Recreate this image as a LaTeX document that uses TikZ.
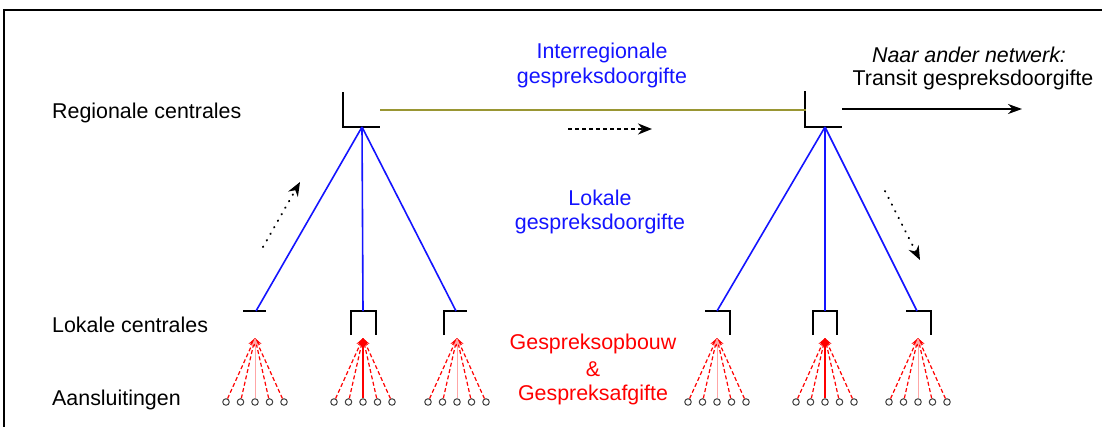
\documentclass[tikz,border=0pt]{standalone}
\usepackage{fontspec}
\setmainfont{Liberation Sans}
\usetikzlibrary{arrows.meta}
\definecolor{trunk}{RGB}{153,150,51}
\definecolor{linkblue}{RGB}{20,20,255}
\definecolor{callred}{RGB}{255,0,0}
\begin{document}
\begin{tikzpicture}[x=1pt,y=-1pt,
  lbl/.style={font=\fontsize{21.4}{25}\selectfont, inner sep=0pt},
  exch/.style={draw=black, line width=2pt},
  link/.style={draw=linkblue, line width=1.6pt},
  feed/.style={draw=callred, line width=1.2pt, dash pattern=on 4pt off 2.5pt, -{Stealth[length=8pt,width=7pt]}},
  feedmid/.style={draw=callred!35, line width=1pt, -{Stealth[length=8pt,width=7pt]}},
  feedsolid/.style={draw=callred, line width=1.3pt, -{Stealth[length=8pt,width=7pt]}},
  port/.style={draw=black!75, line width=1pt, fill=white, circle, minimum size=6.5pt, inner sep=0pt},
  flow/.style={draw=black, line width=2pt, line cap=round, dash pattern=on 0.5pt off 7pt, -{Stealth[length=14pt,width=11pt]}},
]
\useasboundingbox (0,0) rectangle (1102,426);
\clip (0,0) rectangle (1102,426);
\fill[white] (0,0) rectangle (1102,426);
% outer frame
\draw[line width=2pt] (4,480) -- (4,10) -- (1180,10);

% regional exchanges
\coordinate (RL) at (362,127);
\coordinate (RR) at (825,127);
\coordinate (RLo) at (380,110);
\coordinate (RRi) at (806,110);
\coordinate (RRo) at (842,109);
\coordinate (EXT) at (1022,109);
\draw[exch] (343,92) |- (380,127);
\draw[exch] (805,91) |- (842,127);
\draw[draw=trunk, line width=2pt] (RLo) -- (RRi);
\draw[line width=2pt, -{Stealth[length=14pt,width=10pt]}] (RRo) -- (EXT);

% local exchanges
\coordinate (L1) at (256,311);
\coordinate (L2) at (363,311);
\coordinate (L3) at (456,311);
\coordinate (L4) at (717,311);
\coordinate (L5) at (825,311);
\coordinate (L6) at (917,311);
\draw[exch] (243,311) -- (266,311);
\draw[exch] (351,335) |- (376,311) -- (376,335);
\draw[exch] (444,335) |- (467,311);
\draw[exch] (705,311) -| (730,335);
\draw[exch] (813,335) |- (837,311) -- (837,335);
\draw[exch] (906,311) -| (931,335);

% links to the regional exchanges
\foreach \l in {L1,L2,L3} \draw[link] (RL) -- (\l);
\foreach \l in {L4,L5,L6} \draw[link] (RR) -- (\l);

% subscriber lines
\foreach \n/\x/\mid in {1/255/feedmid, 2/363/feedsolid, 3/457/feedmid, 4/717/feedmid, 5/825/feedsolid, 6/918/feedmid} {
  \coordinate (F\n) at (\x,338);
  \foreach \k/\d in {a/-29,b/-14.5,d/14.5,e/29} {
    \node[port] (P\n\k) at (\x+\d,402) {};
    \draw[feed] (P\n\k) -- (F\n);
  }
  \node[port] (P\n c) at (\x,402) {};
  \draw[\mid] (P\n c) -- (F\n);
}

% traffic direction hints
\coordinate (A1) at (263,247); \coordinate (A2) at (300,182);
\coordinate (B1) at (568,129); \coordinate (B2) at (652,129);
\coordinate (C1) at (885,191); \coordinate (C2) at (920,260);
\draw[flow] (A1) -- (A2);
\draw[flow, line cap=butt, dash pattern=on 4pt off 3pt] (B1) -- (B2);
\draw[flow] (C1) -- (C2);

% labels
\node[lbl, anchor=west] (tReg) at (52,113) {Regionale centrales};
\node[lbl, anchor=west] (tLok) at (52,325) {Lokale centrales};
\node[lbl, anchor=west] (tAan) at (52,400) {Aansluitingen};
\node[lbl, text=linkblue] (tInt1) at (602,53) {Interregionale};
\node[lbl, text=linkblue] (tInt2) at (602,78) {gespreksdoorgifte};
\node[lbl, text=linkblue] (tLoc1) at (600,198) {Lokale};
\node[lbl, text=linkblue] (tLoc2) at (600,224) {gespreksdoorgifte};
\node[lbl, font=\fontsize{21.4}{25}\selectfont\itshape] (tExt1) at (969,55) {Naar ander netwerk:};
\node[lbl] (tExt2) at (973,80) {Transit gespreksdoorgifte};
\node[lbl, text=callred] (tOp1) at (593,344) {Gespreksopbouw};
\node[lbl, text=callred] (tOp2) at (593,369) {\&};
\node[lbl, text=callred] (tOp3) at (593,395) {Gespreksafgifte};
\end{tikzpicture}
\end{document}
